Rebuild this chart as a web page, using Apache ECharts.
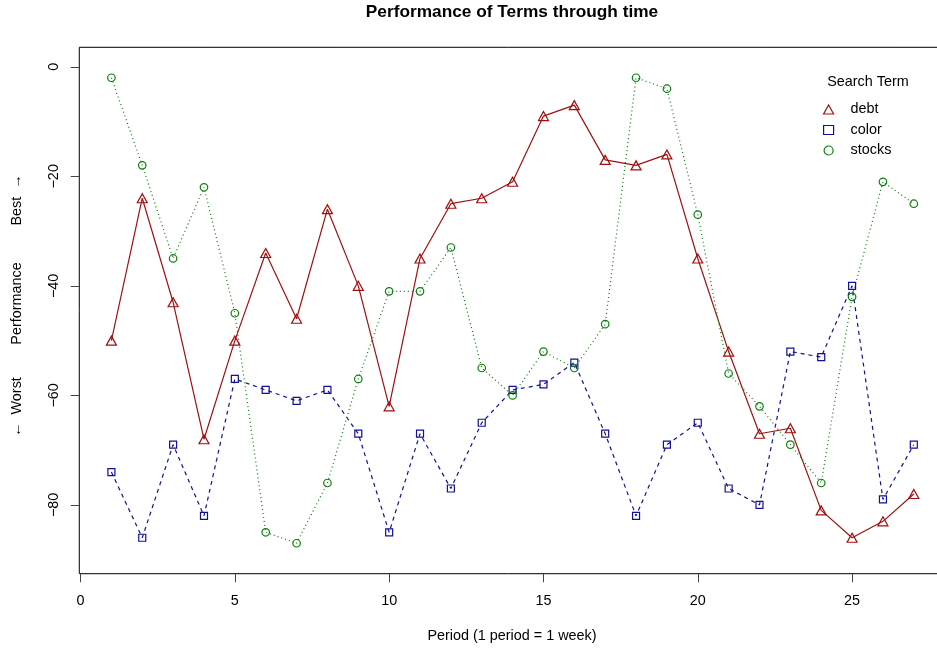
<!DOCTYPE html>
<html><head><meta charset="utf-8">
<script src="https://cdn.jsdelivr.net/npm/echarts@6/dist/echarts.min.js"></script>
<style>html,body{margin:0;padding:0;background:#fff}#c{width:937px;height:650px}</style>
</head><body><div id="c"></div>
<script>
const periods = [1,2,3,4,5,6,7,8,9,10,11,12,13,14,15,16,17,18,19,20,21,22,23,24,25,26,27];
const debt   = [-50,-24,-43,-68,-50,-34,-46,-26,-40,-62,-35,-25,-24,-21,-9,-7,-17,-18,-16,-35,-52,-67,-66,-81,-86,-83,-78];
const color  = [-74,-86,-69,-82,-57,-59,-61,-59,-67,-85,-67,-77,-65,-59,-58,-54,-67,-82,-69,-65,-77,-80,-52,-53,-40,-79,-69];
const stocks = [-2,-18,-35,-22,-45,-85,-87,-76,-57,-41,-41,-33,-55,-60,-52,-55,-47,-2,-4,-27,-56,-62,-69,-76,-42,-21,-25];
const xTicks = [0,5,10,15,20,25];
const yTicks = [0,-20,-40,-60,-80];
const seriesNames = ['debt','color','stocks'];
const legendTitle = 'Search Term';
const chartTitle = 'Performance of Terms through time';
const xName = 'Period (1 period = 1 week)';
const yNameParts = ['\u2190  Worst', 'Performance', 'Best  \u2192'];

const FONT = 'Liberation Sans, Arial, Helvetica, sans-serif';
const RED = '#A01010', BLUE = '#10109A', GREEN = '#0A7E0A';
const minus = v => String(v).replace('-', '\u2212');

const chart = echarts.init(document.getElementById('c'), null, {renderer:'canvas'});
const pts = arr => periods.map((p,i)=>[p, arr[i]]);

chart.setOption({
  animation:false,
  backgroundColor:'#fff',
  grid:{left:79.3, top:47.3, width:866.6, height:526.4, show:true, borderColor:'#000', borderWidth:1,
    backgroundColor:'transparent', containLabel:false, outerBoundsMode:'none'},
  xAxis:{type:'value', min:-0.04, max:28.04,
    axisLine:{show:false, onZero:false}, splitLine:{show:false},
    axisTick:{show:true, inside:false, customValues:xTicks, length:8.6, lineStyle:{color:'#444', width:1}},
    axisLabel:{customValues:xTicks, margin:20.5, fontSize:14.4, color:'#000', fontFamily:FONT, formatter:minus}
  },
  yAxis:{type:'value', min:-92.56, max:3.56,
    axisLine:{show:false, onZero:false}, splitLine:{show:false},
    axisTick:{show:true, inside:false, customValues:yTicks, length:8.6, lineStyle:{color:'#444', width:1}},
    axisLabel:{customValues:yTicks, rotate:90, margin:18.5, fontSize:14.4, color:'#000', fontFamily:FONT, formatter:minus}
  },
  legend:{orient:'vertical', left:823, top:102.5, padding:0, itemWidth:10, itemHeight:9, itemGap:6.5,
    textStyle:{fontSize:14.4, color:'#000', fontFamily:FONT, padding:[0,0,0,12]},
    data:[
      {name:seriesNames[0], icon:'triangle', itemStyle:{color:'transparent', borderColor:RED, borderWidth:1.2}},
      {name:seriesNames[1], icon:'rect', itemStyle:{color:'transparent', borderColor:BLUE, borderWidth:1.2}},
      {name:seriesNames[2], icon:'circle', itemStyle:{color:'transparent', borderColor:GREEN, borderWidth:1.2}}
    ]
  },
  graphic:[
    {type:'text', x:512, y:12, style:{text:chartTitle, font:'bold 17.28px '+FONT, fill:'#000', textAlign:'center', textVerticalAlign:'middle'}},
    {type:'text', x:512, y:636, style:{text:xName, font:'14.4px '+FONT, fill:'#000', textAlign:'center', textVerticalAlign:'middle'}},
    {type:'text', x:868, y:82, style:{text:legendTitle, font:'14.4px '+FONT, fill:'#000', textAlign:'center', textVerticalAlign:'middle'}},
    {type:'text', x:17, y:407, rotation:Math.PI/2, style:{text:yNameParts[0], font:'14.4px '+FONT, fill:'#000', textAlign:'center', textVerticalAlign:'middle'}},
    {type:'text', x:17, y:303.5, rotation:Math.PI/2, style:{text:yNameParts[1], font:'14.4px '+FONT, fill:'#000', textAlign:'center', textVerticalAlign:'middle'}},
    {type:'text', x:17, y:200, rotation:Math.PI/2, style:{text:yNameParts[2], font:'14.4px '+FONT, fill:'#000', textAlign:'center', textVerticalAlign:'middle'}}
  ],
  series:[
    {name:seriesNames[0], type:'line', data:pts(debt), symbol:'triangle', symbolSize:[10,9], showAllSymbol:true,
      itemStyle:{color:'transparent', borderColor:RED, borderWidth:1.2}, lineStyle:{color:RED, width:1.2, type:'solid'}},
    {name:seriesNames[1], type:'line', data:pts(color), symbol:'rect', symbolSize:7, showAllSymbol:true,
      itemStyle:{color:'transparent', borderColor:BLUE, borderWidth:1.2}, lineStyle:{color:BLUE, width:1.2, type:[4,4]}},
    {name:seriesNames[2], type:'line', data:pts(stocks), symbol:'circle', symbolSize:7.5, showAllSymbol:true,
      itemStyle:{color:'transparent', borderColor:GREEN, borderWidth:1.2}, lineStyle:{color:GREEN, width:1.2, type:[1,3]}}
  ]
});
</script>
</body></html>
